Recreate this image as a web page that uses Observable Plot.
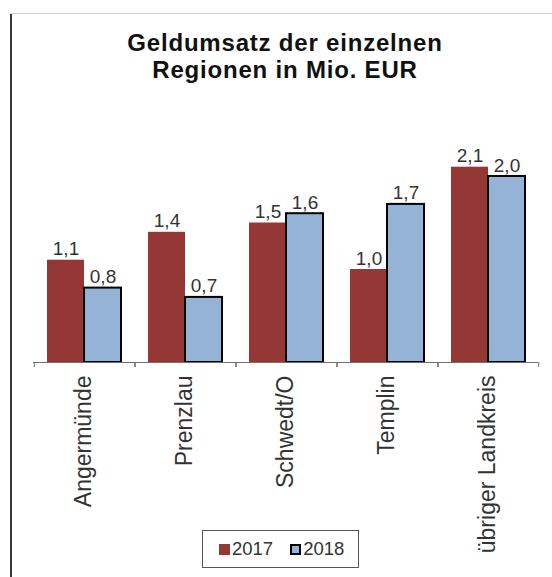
<!DOCTYPE html>
<html>
<head>
<meta charset="utf-8">
<script src="https://cdn.jsdelivr.net/npm/d3@7"></script>
<script src="https://cdn.jsdelivr.net/npm/@observablehq/plot@0.6"></script>
<style>
html, body { margin: 0; padding: 0; background: #fff; }
body { width: 552px; height: 577px; position: relative; overflow: hidden; font-family: "Liberation Sans", Arial, sans-serif; }
#frameL { position: absolute; left: 10px; top: 13px; width: 2px; height: 564px; background: #3a3a3a; }
#frameT { position: absolute; left: 10px; top: 13px; width: 542px; height: 1px; background: #d4d4d4; }
#title { position: absolute; left: 20px; width: 530px; top: 29px; text-align: center; font-weight: bold; font-size: 24px; letter-spacing: 0.8px; line-height: 27px; color: #111; }
#chart { position: absolute; left: 0; top: 90px; }
#chart svg text { font-family: "Liberation Sans", Arial, sans-serif; }
#legend { position: absolute; left: 202px; top: 530px; width: 155px; height: 36px; border: 1.5px solid #555; display: flex; align-items: center; padding-left: 0; box-sizing: content-box; font-size: 18.5px; color: #333; }
#legend .sw { display: inline-block; width: 11px; height: 11px; box-sizing: border-box; }
</style>
</head>
<body>
<div id="frameL"></div>
<div id="frameT"></div>
<div id="title">Geldumsatz der einzelnen<br>Regionen in Mio. EUR</div>
<div id="chart"></div>
<div id="legend"></div>
<script>
const regions = ["Angermünde", "Prenzlau", "Schwedt/O", "Templin", "übriger Landkreis"];
const years = ["2017", "2018"];
const values2017 = [1.1, 1.4, 1.5, 1.0, 2.1];
const values2018 = [0.8, 0.7, 1.6, 1.7, 2.0];
const colors = {"2017": "#953735", "2018": "#95B3D7"};

const rows = regions.flatMap((r, i) => [
  {region: r, year: "2017", value: values2017[i]},
  {region: r, year: "2018", value: values2018[i]}
]);

const W = 552, H = 487, ML = 33, MR = 14, MT = 39.5, MB = 215;
const pad = 0.347;
const FW = (W - ML - MR) / regions.length;
const step = FW / (2 + 2 * pad);
const edge = pad * step + step / 2;
const yMax = 2.5;
const tickLen = 5 / ((H - MT - MB) / yMax);

const chart = Plot.plot({
  width: W, height: H,
  marginLeft: ML, marginRight: MR, marginTop: MT, marginBottom: MB,
  style: {fontFamily: "Liberation Sans, Arial, sans-serif", fontSize: "23px", color: "#333", background: "transparent", overflow: "visible"},
  facet: {data: rows, x: "region"},
  fx: {domain: regions, padding: 0, axis: "bottom", label: null, tickRotate: -90, tickSize: 0, tickPadding: 13},
  x: {domain: years, paddingInner: 0, paddingOuter: pad, axis: null},
  y: {domain: [0, yMax], axis: null},
  marks: [
    Plot.barY(rows, {filter: d => d.year === "2017", x: "year", y: "value", fill: colors["2017"]}),
    Plot.barY(rows, {filter: d => d.year === "2018", x: "year", y: "value", fill: colors["2018"], stroke: "#000", strokeWidth: 2}),
    Plot.ruleY([0], {stroke: "#707070"}),
    Plot.ruleX([years[0]], {x: d => d, dx: -edge, y1: 0, y2: -tickLen, stroke: "#707070"}),
    Plot.ruleX([years[1]], {x: d => d, dx: edge, y1: 0, y2: -tickLen, stroke: "#707070"}),
    Plot.text(rows, {x: "year", y: "value", text: d => d.value.toFixed(1).replace(".", ","), dy: -5, lineAnchor: "bottom", fontSize: 19, fill: "#333"})
  ]
});
document.getElementById("chart").appendChild(chart);

const legend = document.getElementById("legend");
years.forEach((yr, i) => {
  const sw = document.createElement("span");
  sw.className = "sw";
  sw.style.background = colors[yr];
  sw.style.marginLeft = i === 0 ? "16px" : "17px";
  if (yr === "2018") sw.style.border = "2px solid #000";
  const t = document.createElement("span");
  t.textContent = yr;
  t.style.marginLeft = "2px";
  legend.appendChild(sw);
  legend.appendChild(t);
});
</script>
</body>
</html>
